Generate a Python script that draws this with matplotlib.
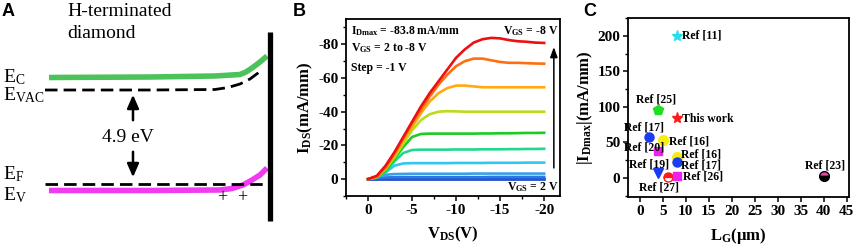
import matplotlib
matplotlib.use("Agg")
import matplotlib.pyplot as plt
from matplotlib.ticker import MultipleLocator

plt.rcParams['font.family'] = ['Liberation Serif', 'DejaVu Serif']
plt.rcParams['mathtext.fontset'] = 'custom'
plt.rcParams['mathtext.rm'] = 'Liberation Serif'
plt.rcParams['mathtext.it'] = 'Liberation Serif:italic'
plt.rcParams['mathtext.bf'] = 'Liberation Serif:bold'

# ---------------- Panel A: band diagram (schematic, pixel units) -------------
ec_x = [49, 150, 215, 240, 246, 252, 260, 267]
ec_y = [77.5, 77, 76, 74.5, 72, 68, 62, 56]
evac_x = [45, 150, 215, 228, 240, 250, 258, 262]
evac_y = [90, 90, 89.5, 87.5, 84, 79, 73, 69]
ef_x = [45, 267]
ef_y = [184, 184]
ev_x = [49, 150, 220, 232, 243, 252, 260, 267]
ev_y = [190.5, 190.5, 190, 188.5, 185, 180, 175, 168]
gap_label = "4.9 eV"

# ---------------- Panel B: output characteristics -----------------------------
vds = [0, -1, -2, -3, -4, -5, -6, -7, -8, -9, -10, -11, -12, -13, -14, -15, -16, -17, -18, -19, -20]
vgs = [2, 1, 0, -1, -2, -3, -4, -5, -6, -7, -8]
ids_vgs_p2 = [0, 0, 0, 0, 0, 0, 0, 0, 0, 0, 0, 0, 0, 0, 0, 0, 0, 0, 0, 0, 0]
ids_vgs_p1 = [0, -0.1, -0.2, -0.2, -0.2, -0.2, -0.2, -0.2, -0.2, -0.2, -0.2, -0.2, -0.2, -0.2, -0.2, -0.2, -0.2, -0.2, -0.2, -0.2, -0.2]
ids_vgs_0 = [0, -0.6, -1.0, -1.1, -1.2, -1.2, -1.2, -1.2, -1.2, -1.2, -1.2, -1.2, -1.2, -1.2, -1.3, -1.3, -1.3, -1.3, -1.3, -1.3, -1.3]
ids_vgs_m1 = [0, -1.5, -2.6, -3.0, -3.1, -3.2, -3.2, -3.2, -3.2, -3.2, -3.2, -3.2, -3.3, -3.3, -3.3, -3.3, -3.3, -3.3, -3.3, -3.3, -3.3]
ids_vgs_m2 = [0, -1.0, -4.0, -8.0, -9.3, -9.5, -9.5, -9.5, -9.5, -9.5, -9.6, -9.6, -9.6, -9.6, -9.7, -9.7, -9.7, -9.7, -9.8, -9.8, -9.8]
ids_vgs_m3 = [0, -1.0, -4.5, -10.5, -15.5, -17.3, -17.5, -17.5, -17.5, -17.5, -17.6, -17.6, -17.6, -17.7, -17.7, -17.7, -17.8, -17.8, -17.9, -17.9, -18.0]
ids_vgs_m4 = [0, -1.0, -5.0, -12.0, -19.0, -25.0, -26.8, -27.0, -27.0, -27.0, -27.0, -27.0, -27.0, -27.1, -27.1, -27.2, -27.2, -27.3, -27.4, -27.4, -27.5]
ids_vgs_m5 = [0, -1.3, -6.0, -13.0, -21.0, -29.0, -35.0, -38.5, -40.0, -40.3, -40.2, -40.0, -40.0, -40.0, -40.0, -40.0, -40.0, -40.0, -40.0, -40.0, -40.0]
ids_vgs_m6 = [0, -1.5, -6.5, -14.0, -23.0, -31.0, -39.0, -46.0, -51.0, -54.0, -55.5, -55.5, -55.0, -54.5, -54.5, -54.5, -54.5, -54.5, -54.5, -54.5, -54.5]
ids_vgs_m7 = [0, -1.5, -7.0, -15.0, -24.0, -33.0, -41.0, -49.0, -56.0, -62.0, -67.0, -70.0, -71.5, -71.5, -70.5, -69.5, -69.0, -69.0, -68.8, -68.6, -68.5]
ids_vgs_m8 = [0, -2.0, -8.0, -16.0, -25.0, -34.0, -43.0, -51.0, -58.0, -65.0, -72.0, -77.0, -81.0, -83.0, -83.8, -83.5, -82.5, -81.8, -81.5, -81.0, -80.8]
ids_all = [ids_vgs_p2, ids_vgs_p1, ids_vgs_0, ids_vgs_m1, ids_vgs_m2, ids_vgs_m3,
           ids_vgs_m4, ids_vgs_m5, ids_vgs_m6, ids_vgs_m7, ids_vgs_m8]
curve_colors = ['#1a3cc4', '#1f58d6', '#2a78e0', '#38a0ea', '#30c8f0', '#22d88e',
                '#1ccc22', '#b8dc1e', '#ffaa10', '#ff6e10', '#ec1010']

# ---------------- Panel C: benchmark ------------------------------------------
ref_names = ['Ref [11]', 'Ref [25]', 'This work', 'Ref [17]', 'Ref [16]', 'Ref [20]',
             'Ref [16]', 'Ref [17]', 'Ref [19]', 'Ref [27]', 'Ref [26]', 'Ref [23]']
lg_um = [8, 4, 8, 2, 5, 4, 8, 8, 4, 6, 8, 40]
idmax_abs = [200, 96, 83.8, 58, 53, 38, 29, 22, 7, 1, 2, 3]

fig = plt.figure(figsize=(8.58, 2.45), dpi=100)

# ---- Panel A ----
axA = fig.add_axes([0, 0, 290 / 858, 1])
axA.set_xlim(0, 290)
axA.set_ylim(245, 0)
axA.axis('off')
axA.plot(ec_x, ec_y, color='#4cc35a', lw=4.0, solid_capstyle='butt')
axA.plot(ev_x, ev_y, color='#f03cf0', lw=4.0, solid_capstyle='butt')
axA.plot(evac_x, evac_y, color='black', lw=2.0, dashes=(4.5, 2.2))
axA.plot(ef_x, ef_y, color='black', lw=2.0, dashes=(4.5, 2.2))
axA.plot([269.5, 269.5], [32, 221], color='black', lw=3.8, solid_capstyle='butt')
axA.annotate('', xy=(133, 92), xytext=(133, 123),
             arrowprops=dict(arrowstyle='-|>,head_length=0.8,head_width=0.35', color='black', lw=1.8))
axA.annotate('', xy=(133, 180), xytext=(133, 149),
             arrowprops=dict(arrowstyle='-|>,head_length=0.8,head_width=0.35', color='black', lw=1.8))
axA.text(128, 137, gap_label, fontsize=14, ha='center', va='center')
axA.text(67, 12, 'H-terminated', fontsize=14, ha='left', va='center')
axA.text(67, 34, 'diamond', fontsize=14, ha='left', va='center')
axA.text(3, 77, r'E$_{\mathrm{C}}$', fontsize=14, ha='left', va='center')
axA.text(3, 95, r'E$_{\mathrm{VAC}}$', fontsize=14, ha='left', va='center')
axA.text(3, 174, r'E$_{\mathrm{F}}$', fontsize=14, ha='left', va='center')
axA.text(3, 195, r'E$_{\mathrm{V}}$', fontsize=14, ha='left', va='center')
axA.text(222, 198, '+', fontsize=13, ha='center', va='center')
axA.text(242, 198, '+', fontsize=13, ha='center', va='center')
fig.text(2 / 858, 1 - 12 / 245, 'A', fontsize=13, fontweight='bold', family='Liberation Sans',
         ha='left', va='center')

# ---- Panel B ----
axB = fig.add_axes([346 / 858, 1 - 196 / 245, (560 - 346) / 858, (196 - 19) / 245])
for ids, c in zip(ids_all, curve_colors):
    axB.plot(vds, ids, color=c, lw=1.9)
axB.set_xlim(2.5, -21.8)
axB.set_ylim(10, -95)
axB.xaxis.set_minor_locator(MultipleLocator(2.5))
axB.yaxis.set_minor_locator(MultipleLocator(10))
axB.set_xticks([0, -5, -10, -15, -20])
axB.set_xticklabels(['0', '-5', '-10', '-15', '-20'])
axB.set_yticks([0, -20, -40, -60, -80])
axB.set_yticklabels(['0', '-20', '-40', '-60', '-80'])
axB.set_xlabel(r'V$_{\mathbf{DS}}$(V)', fontsize=12, fontweight='bold', labelpad=6)
axB.set_ylabel(r'I$_{\mathbf{DS}}$(mA/mm)', fontsize=12, fontweight='bold', labelpad=2)
axB.text(1.9, -88, r'I$_{\mathbf{Dmax}}$ = -83.8 mA/mm', fontsize=8.5, fontweight='bold', va='center')
axB.text(1.9, -77.5, r'V$_{\mathbf{GS}}$ = 2 to -8 V', fontsize=8.5, fontweight='bold', va='center')
axB.text(1.9, -66, 'Step = -1 V', fontsize=8.5, fontweight='bold', va='center')
axB.text(-21.6, -88, r'V$_{\mathbf{GS}}$ = -8 V', fontsize=8.5, fontweight='bold', va='center', ha='right')
axB.text(-21.6, 4.5, r'V$_{\mathbf{GS}}$ = 2 V', fontsize=8.5, fontweight='bold', va='center', ha='right')
axB.annotate('', xy=(-21.1, -80), xytext=(-21.1, -5),
             arrowprops=dict(arrowstyle='-|>,head_length=0.6,head_width=0.22', color='black', lw=1.1))
fig.text(293 / 858, 1 - 12 / 245, 'B', fontsize=13, fontweight='bold', family='Liberation Sans',
         ha='left', va='center')

# ---- Panel C ----
axC = fig.add_axes([628 / 858, 1 - 197 / 245, (849 - 628) / 858, (197 - 18) / 245])
styles = [
    dict(marker='*', color='#20e0f0', ms=8),
    dict(marker='p', color='#22dd22', ms=7),
    dict(marker='*', color='#ff1a1a', ms=8),
    dict(marker='o', color='#1a3cf0', ms=6.5),
    dict(marker='o', color='#f5ee10', ms=7),
    dict(marker='s', color='#ee22ee', ms=6),
    dict(marker='o', color='#f5ee10', ms=7),
    dict(marker='o', color='#1a3cf0', ms=6.5),
    dict(marker='v', color='#1a3cf0', ms=7),
    dict(marker='o', color='#ff1a1a', ms=6.5, fillstyle='top', markerfacecoloralt='white', markeredgecolor='#ff1a1a'),
    dict(marker='s', color='#ee22ee', ms=6),
    dict(marker='o', color='#ee44aa', ms=7, fillstyle='top', markerfacecoloralt='black', markeredgecolor='black'),
]
label_pos = [(9.1, 200, 'left'), (3.5, 110, 'center'), (9.1, 83, 'left'), (0.8, 71, 'center'),
             (6.3, 51, 'left'), (1.0, 42, 'center'), (8.9, 33, 'left'), (8.9, 17, 'left'),
             (2.0, 19, 'center'), (4.2, -13, 'center'), (9.3, 1.5, 'left'), (40.3, 18, 'center')]
for x, y, name, st, (tx, ty, ha) in zip(lg_um, idmax_abs, ref_names, styles, label_pos):
    kw = dict(st)
    kw.setdefault('markeredgecolor', kw['color'])
    axC.plot([x], [y], linestyle='none', **kw)
    axC.text(tx, ty, name, fontsize=8.5, fontweight='bold', ha=ha, va='center')
axC.set_xlim(-2.6, 45.5)
axC.set_ylim(-27, 225)
axC.xaxis.set_major_locator(MultipleLocator(5))
axC.yaxis.set_major_locator(MultipleLocator(50))
axC.yaxis.set_minor_locator(MultipleLocator(25))
axC.set_xlabel(r'L$_{\mathbf{G}}$($\mathbf{\mu}$m)', fontsize=12, fontweight='bold', labelpad=6)
axC.set_ylabel(r'|I$_{\mathbf{Dmax}}$|(mA/mm)', fontsize=12, fontweight='bold', labelpad=2)
fig.text(583 / 858, 1 - 12 / 245, 'C', fontsize=13, fontweight='bold', family='Liberation Sans',
         ha='left', va='center')

for ax in (axB, axC):
    for sp in ax.spines.values():
        sp.set_linewidth(1.3)
    ax.tick_params(which='major', direction='out', length=3.5, width=1.1, labelsize=11, pad=2)
    ax.tick_params(which='minor', direction='out', length=2, width=1.0)
    for lab in ax.get_xticklabels() + ax.get_yticklabels():
        lab.set_fontweight('bold')

fig.savefig('out.png', dpi=100)
